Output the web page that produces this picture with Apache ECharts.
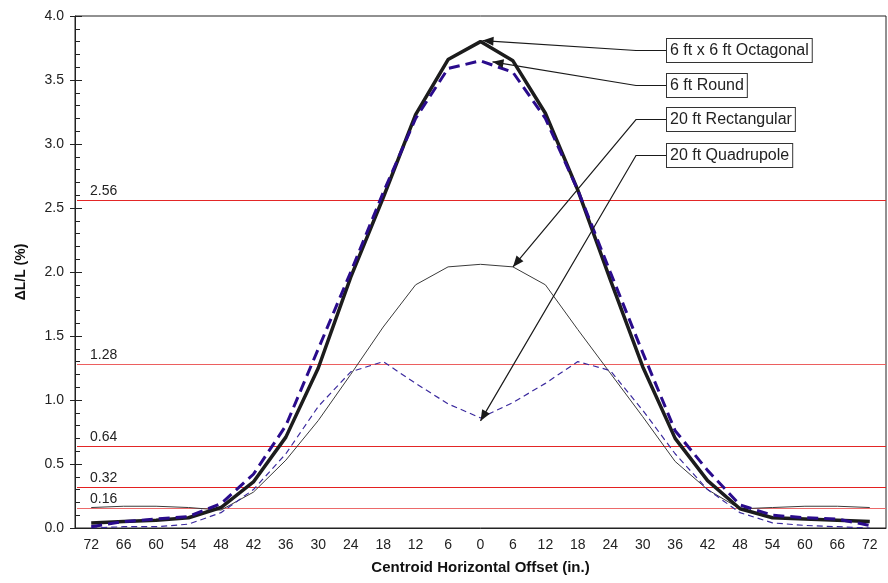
<!DOCTYPE html>
<html>
<head>
<meta charset="utf-8">
<script src="https://cdn.jsdelivr.net/npm/echarts@6/dist/echarts.min.js"></script>
<style>
  html, body { margin: 0; padding: 0; background: #fff; }
  #chart { width: 888px; height: 583px; }
</style>
</head>
<body>
<div id="chart"></div>
<script>
// Horizontal offset of the centroid (in.), left to right across the span
const offsets = ['72','66','60','54','48','42','36','30','24','18','12','6','0','6','12','18','24','30','36','42','48','54','60','66','72'];

// ΔL/L (%) for each cross-section
const octagonal   = [0.04,0.05,0.06,0.08,0.16,0.36,0.71,1.25,1.96,2.58,3.23,3.66,3.80,3.65,3.24,2.64,1.94,1.26,0.70,0.37,0.15,0.08,0.07,0.06,0.05];
const round6      = [0.01,0.05,0.07,0.09,0.19,0.42,0.80,1.40,2.00,2.62,3.20,3.59,3.65,3.56,3.20,2.64,2.00,1.37,0.76,0.45,0.18,0.10,0.08,0.07,0.02];
const rectangular = [0.16,0.17,0.17,0.16,0.14,0.28,0.53,0.84,1.20,1.57,1.90,2.04,2.06,2.04,1.90,1.55,1.21,0.87,0.52,0.30,0.15,0.16,0.17,0.17,0.16];
const quadrupole  = [0.00,0.01,0.01,0.03,0.12,0.30,0.58,0.95,1.22,1.30,1.13,0.97,0.86,0.98,1.13,1.30,1.23,0.92,0.58,0.30,0.12,0.04,0.02,0.01,0.00];

// Reference thresholds
const thresholds = [2.56, 1.28, 0.64, 0.32, 0.16];
const thresholdColors = ['#e32626', '#ec5f5f', '#e32626', '#e42020', '#ec6a6a'];

const FONT = '"Liberation Sans", Arial, sans-serif';
const chart = echarts.init(document.getElementById('chart'));

const GRID = { left: 75, right: 2, top: 16, bottom: 55 };

chart.setOption({
  animation: false,
  grid: Object.assign({ show: true, borderColor: '#222', borderWidth: 1 }, GRID),
  xAxis: {
    type: 'category',
    data: offsets,
    boundaryGap: true,
    axisLine: { lineStyle: { color: '#222', width: 1 } },
    axisTick: { show: false },
    axisLabel: { color: '#222', fontFamily: FONT, fontSize: 14, margin: 10 },
    name: 'Centroid Horizontal Offset (in.)',
    nameLocation: 'middle',
    nameGap: 32,
    nameTextStyle: { color: '#111', fontFamily: FONT, fontSize: 15, fontWeight: 'bold' }
  },
  yAxis: [
    {
      type: 'value',
      min: 0, max: 4, interval: 0.5,
      axisLine: { show: true, lineStyle: { color: '#222' } },
      axisTick: { show: true, length: 5, lineStyle: { color: '#222' } },
      axisLabel: { color: '#222', fontFamily: FONT, fontSize: 14, margin: 11, formatter: v => v.toFixed(1) },
      splitLine: { show: false },
      name: 'ΔL/L (%)',
      nameLocation: 'middle',
      nameRotate: 90,
      nameGap: 47,
      nameTextStyle: { color: '#111', fontFamily: FONT, fontSize: 14, fontWeight: 'bold' }
    },
    {
      // inner tick marks (major + minor) on the same left edge
      type: 'value',
      position: 'left',
      min: 0, max: 4, interval: 0.5,
      axisLine: { show: false },
      axisTick: { show: true, inside: true, length: 7, lineStyle: { color: '#222' } },
      minorTick: { show: true, splitNumber: 5, length: 5, lineStyle: { color: '#222' } },
      axisLabel: { show: false },
      splitLine: { show: false }
    }
  ],
  series: [
    {
      name: '20 ft Rectangular', type: 'line', data: rectangular,
      symbol: 'none', z: 2,
      lineStyle: { color: '#3a3a3a', width: 1 }
    },
    {
      name: '20 ft Quadrupole', type: 'line', data: quadrupole,
      symbol: 'none', z: 3,
      lineStyle: { color: '#3b2a9e', width: 1.2, type: [6, 4] }
    },
    {
      name: '6 ft x 6 ft Octagonal', type: 'line', data: octagonal,
      symbol: 'none', z: 4,
      lineStyle: { color: '#1c1c1c', width: 3.5 }
    },
    {
      name: '6 ft Round', type: 'line', data: round6,
      symbol: 'none', z: 5,
      lineStyle: { color: '#2a0b8c', width: 3, type: [11, 6] }
    }
  ]
});

const graphics = [];

// Threshold reference lines, placed through the value axis
const x0 = GRID.left + 2, x1 = 888 - GRID.right;
thresholds.forEach((v, i) => {
  const y = Math.round(chart.convertToPixel({ yAxisIndex: 0 }, v)) + 0.5;
  graphics.push({
    type: 'line', z: 1, zlevel: 0, silent: true,
    shape: { x1: x0, y1: y, x2: x1, y2: y },
    style: { stroke: thresholdColors[i], lineWidth: 1.1 }
  });
  graphics.push({
    type: 'text', z: 1, silent: true,
    x: GRID.left + 15, y: y - 2,
    style: {
      text: v.toFixed(2), fontFamily: FONT, fontSize: 14, fill: '#222',
      verticalAlign: 'bottom'
    }
  });
});

// Callout boxes with leader arrows pointing to each curve
const callouts = [
  { text: '6 ft x 6 ft Octagonal', boxY: 39, idx: 12, value: octagonal[12], dx: 2, dy: -1 },
  { text: '6 ft Round',            boxY: 74, idx: 12, value: round6[12],    dx: 12, dy: 1 },
  { text: '20 ft Rectangular',     boxY: 108, idx: 13, value: rectangular[13], dx: 0, dy: 0 },
  { text: '20 ft Quadrupole',      boxY: 144, idx: 12, value: quadrupole[12], dx: 0, dy: 3 }
];
const boxX = 667, boxH = 23, elbowX = 636;
callouts.forEach(c => {
  const tip = chart.convertToPixel({ xAxisIndex: 0, yAxisIndex: 0 }, [c.idx, c.value]);
  const tx = tip[0] + c.dx, ty = tip[1] + c.dy;
  const midY = c.boxY + boxH / 2;
  graphics.push({
    type: 'text', x: boxX, y: c.boxY, z: 10,
    style: {
      text: c.text, fontFamily: FONT, fontSize: 16, fill: '#222',
      padding: [3, 3, 2, 3], backgroundColor: '#fff',
      borderColor: '#333', borderWidth: 1, lineHeight: 18
    }
  });
  graphics.push({
    type: 'polyline', z: 9,
    shape: { points: [[boxX, midY], [elbowX, midY], [tx, ty]] },
    style: { stroke: '#1a1a1a', lineWidth: 1.2, fill: null }
  });
  // arrow head at the curve end
  const ang = Math.atan2(ty - midY, tx - elbowX);
  const L = 11, W = 4.5;
  const bx = tx - L * Math.cos(ang), by = ty - L * Math.sin(ang);
  const px = -Math.sin(ang) * W, py = Math.cos(ang) * W;
  graphics.push({
    type: 'polygon', z: 9,
    shape: { points: [[tx, ty], [bx + px, by + py], [bx - px, by - py]] },
    style: { fill: '#1a1a1a' }
  });
});
chart.setOption({ graphic: graphics });
</script>
</body>
</html>
